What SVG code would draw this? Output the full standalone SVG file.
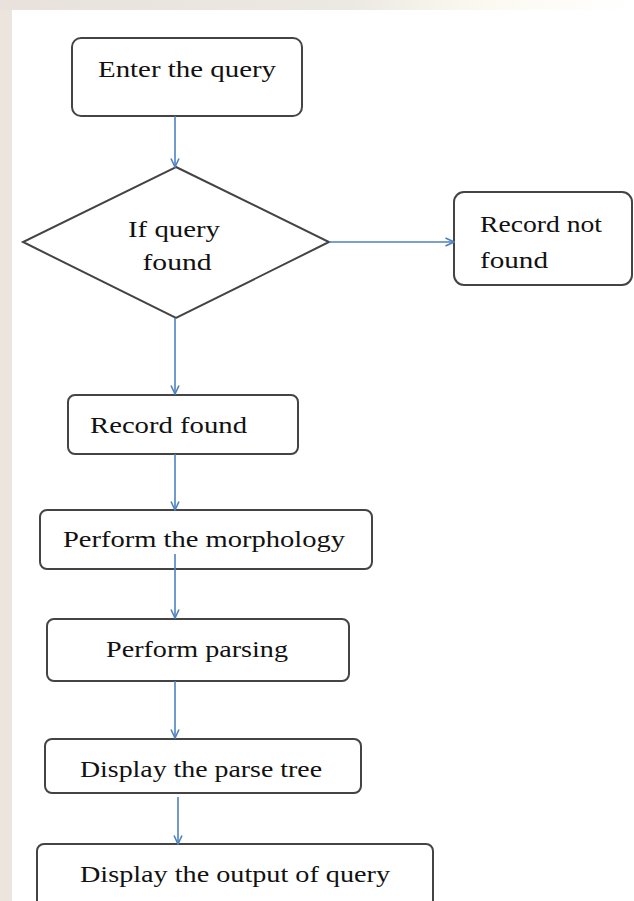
<svg xmlns="http://www.w3.org/2000/svg" width="634" height="901" viewBox="0 0 634 901">
  <defs>
    <style>
      .box { fill: #ffffff; stroke: #444444; stroke-width: 2; }
      .lbl { font-family: "Liberation Serif", "Times New Roman", serif; font-size: 24px; fill: #111111; }
      .mid { text-anchor: middle; }
      .edge { fill: none; stroke: #4f81bd; stroke-width: 1.6; marker-end: url(#arrow); }
    </style>
    <marker id="arrow" viewBox="0 0 10 10" refX="9.5" refY="5" markerWidth="10" markerHeight="10" markerUnits="userSpaceOnUse" orient="auto">
      <path d="M1,1 L9.5,5 L1,9" fill="none" stroke="#4f81bd" stroke-width="1.6"/>
    </marker>
    <linearGradient id="topStrip" x1="0" y1="0" x2="1" y2="0">
      <stop offset="0" stop-color="#e9e2dc"/>
      <stop offset="0.55" stop-color="#ece8e2"/>
      <stop offset="0.75" stop-color="#fbf9ef"/>
      <stop offset="1" stop-color="#ffffff"/>
    </linearGradient>
  </defs>

  <!-- page background with the tinted margins -->
  <rect x="0" y="0" width="634" height="901" fill="#ece5de"/>
  <rect x="0" y="0" width="634" height="10" fill="url(#topStrip)"/>
  <rect x="12" y="10" width="622" height="891" fill="#ffffff"/>

  <g id="enter-query">
    <rect class="box" x="72" y="38" width="230" height="78" rx="9"/>
    <text class="lbl mid" x="187" y="77" textLength="178" lengthAdjust="spacingAndGlyphs">Enter the query</text>
  </g>

  <g id="if-query-found">
    <polygon class="box" points="176,167 329,242 176,318 23,242"/>
    <text class="lbl mid" x="174" y="237" textLength="92" lengthAdjust="spacingAndGlyphs">If query</text>
    <text class="lbl mid" x="177" y="270" textLength="69" lengthAdjust="spacingAndGlyphs">found</text>
  </g>

  <g id="record-not-found">
    <rect class="box" x="454" y="192" width="178" height="93" rx="10"/>
    <text class="lbl" x="480" y="232" textLength="122" lengthAdjust="spacingAndGlyphs">Record not</text>
    <text class="lbl" x="480" y="268" textLength="68" lengthAdjust="spacingAndGlyphs">found</text>
  </g>

  <g id="record-found">
    <rect class="box" x="68" y="395" width="230" height="59" rx="7"/>
    <text class="lbl" x="90" y="433" textLength="157" lengthAdjust="spacingAndGlyphs">Record found</text>
  </g>

  <g id="perform-morphology">
    <rect class="box" x="40" y="510" width="332" height="59" rx="7"/>
    <text class="lbl" x="63" y="547" textLength="282" lengthAdjust="spacingAndGlyphs">Perform the morphology</text>
  </g>

  <g id="perform-parsing">
    <rect class="box" x="47" y="619" width="302" height="62" rx="7"/>
    <text class="lbl" x="106" y="657" textLength="182" lengthAdjust="spacingAndGlyphs">Perform parsing</text>
  </g>

  <g id="display-parse-tree">
    <rect class="box" x="45" y="739" width="316" height="54" rx="7"/>
    <text class="lbl" x="80" y="777" textLength="242" lengthAdjust="spacingAndGlyphs">Display the parse tree</text>
  </g>

  <g id="display-output">
    <rect class="box" x="37" y="844" width="396" height="70" rx="7"/>
    <text class="lbl" x="80" y="882" textLength="310" lengthAdjust="spacingAndGlyphs">Display the output of query</text>
  </g>

  <!-- connectors, drawn over the boxes -->
  <g id="connectors">
    <line class="edge" x1="175" y1="116" x2="175" y2="167"/>
    <line class="edge" x1="329" y1="242" x2="454" y2="242"/>
    <line class="edge" x1="175" y1="318" x2="175" y2="394"/>
    <line class="edge" x1="175" y1="454" x2="175" y2="510"/>
    <line class="edge" x1="175" y1="554" x2="175" y2="618"/>
    <line class="edge" x1="175" y1="681" x2="175" y2="738"/>
    <line class="edge" x1="178" y1="797" x2="178" y2="844"/>
  </g>
</svg>
